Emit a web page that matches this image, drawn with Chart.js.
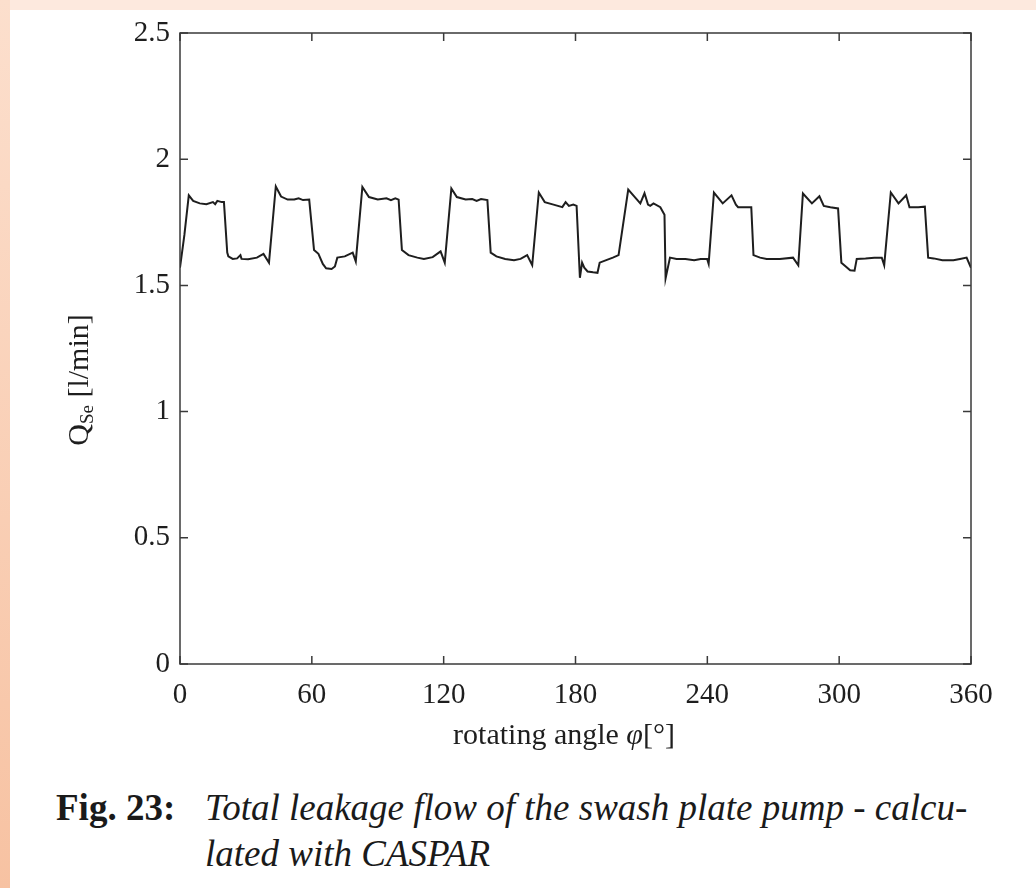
<!DOCTYPE html>
<html>
<head>
<meta charset="utf-8">
<title>Total leakage flow</title>
<script src="https://cdn.jsdelivr.net/npm/chart.js@4.4.0/dist/chart.umd.min.js"></script>
<style>
  html, body { margin: 0; padding: 0; background: #fff; }
  #page { position: relative; width: 1036px; height: 888px; overflow: hidden; background: #fff; }
  #topBand { position: absolute; left: 0; top: 0; width: 1036px; height: 10px; background: #fde9de; }
  #leftBand { position: absolute; left: 0; top: 0; width: 10px; height: 888px; background: linear-gradient(to bottom, #fcdfcd, #f7c2a2); }
  #chartBox { position: absolute; left: 0; top: 0; width: 1036px; height: 780px; }
  .caption { position: absolute; font-family: "Liberation Serif", "Times New Roman", serif; font-size: 37px; color: #1a1a1a; white-space: nowrap; line-height: 1; }
  .caption b { font-weight: bold; }
  .caption i { font-style: italic; }
</style>
</head>
<body>
<div id="page">
  <div id="topBand"></div>
  <div id="leftBand"></div>
  <div id="chartBox"><canvas id="leakagePlot" width="1036" height="780"></canvas></div>
  <div class="caption" style="left:56px; top:789px;"><b>Fig. 23:</b></div>
  <div class="caption" style="left:205px; top:789px;"><i>Total leakage flow of the swash plate pump - calcu-</i></div>
  <div class="caption" style="left:205px; top:835px;"><i>lated with CASPAR</i></div>
</div>
<script>
// rotating angle in degrees
const angles = [
  0, 2, 4, 6, 9, 12, 15, 16, 17, 19, 20, 21.5, 22, 24, 26, 27.5, 28, 31, 35, 38, 40.5,
  43.6, 46, 49, 52, 54, 56, 58.8, 61, 63, 65, 66.5, 69, 70.5, 71.6, 75, 78.6, 80,
  83, 86, 90, 94, 96, 98, 99.5, 101, 104, 108, 111, 115, 118.6, 120.5,
  123.5, 126, 130, 133, 135, 137, 139.9, 141.4, 144, 148, 152, 155, 158, 160.3,
  163.3, 166, 170, 174, 175.5, 177, 179, 180.5, 182, 183, 184, 185.5, 188, 190, 191, 194, 197, 199.6,
  204, 207, 209.5, 211.4, 213, 214, 215.5, 218.6, 220.5, 221, 223, 226, 230, 234, 237, 239.9, 240.6,
  243, 247, 251, 253, 254, 257, 260, 261, 264, 267, 273, 279, 281.4,
  283.5, 287.6, 291, 293, 296, 299.5, 301, 303, 305, 307, 308, 312, 316, 319.4, 320.5,
  323.5, 327, 330.5, 332, 336, 339, 340.5, 343, 347, 352, 355, 358, 360
];
// total leakage flow Q_Se in l/min
const leakage = [
  1.57, 1.70, 1.857, 1.835, 1.825, 1.822, 1.83, 1.822, 1.835, 1.83, 1.83, 1.63, 1.615, 1.605, 1.607, 1.62, 1.605, 1.604, 1.61, 1.625, 1.59,
  1.892, 1.852, 1.84, 1.84, 1.845, 1.838, 1.84, 1.64, 1.625, 1.585, 1.568, 1.565, 1.575, 1.61, 1.615, 1.63, 1.595,
  1.89, 1.85, 1.84, 1.845, 1.838, 1.845, 1.84, 1.64, 1.62, 1.61, 1.605, 1.612, 1.635, 1.59,
  1.884, 1.85, 1.84, 1.842, 1.835, 1.842, 1.838, 1.63, 1.615, 1.605, 1.60, 1.605, 1.62, 1.58,
  1.868, 1.83, 1.82, 1.81, 1.83, 1.815, 1.82, 1.815, 1.53, 1.59, 1.57, 1.555, 1.552, 1.55, 1.59, 1.60, 1.61, 1.62,
  1.88, 1.85, 1.825, 1.865, 1.82, 1.815, 1.825, 1.81, 1.78, 1.528, 1.61, 1.605, 1.605, 1.60, 1.605, 1.605, 1.585,
  1.868, 1.825, 1.857, 1.82, 1.81, 1.81, 1.81, 1.62, 1.61, 1.605, 1.605, 1.61, 1.58,
  1.864, 1.825, 1.853, 1.815, 1.81, 1.805, 1.59, 1.575, 1.56, 1.558, 1.605, 1.607, 1.61, 1.61, 1.58,
  1.868, 1.825, 1.857, 1.81, 1.81, 1.812, 1.61, 1.607, 1.60, 1.60, 1.605, 1.61, 1.57
];
const xTicks = [0, 60, 120, 180, 240, 300, 360];
const yTicks = [0, 0.5, 1, 1.5, 2, 2.5];

const serif = '"Liberation Serif", "Times New Roman", serif';
const inkColor = '#1e1e1e';

// box, inward ticks and axis titles, MATLAB style
const framePlugin = {
  id: 'frame',
  afterDraw(chart) {
    const { ctx, chartArea: a, scales: { x, y } } = chart;
    const len = 8;
    ctx.save();
    ctx.strokeStyle = '#3a3a3a';
    ctx.lineWidth = 1.5;
    ctx.strokeRect(a.left, a.top, a.right - a.left, a.bottom - a.top);
    ctx.beginPath();
    xTicks.forEach(v => {
      const px = x.getPixelForValue(v);
      ctx.moveTo(px, a.bottom); ctx.lineTo(px, a.bottom - len);
      ctx.moveTo(px, a.top); ctx.lineTo(px, a.top + len);
    });
    yTicks.forEach(v => {
      const py = y.getPixelForValue(v);
      ctx.moveTo(a.left, py); ctx.lineTo(a.left + len, py);
      ctx.moveTo(a.right, py); ctx.lineTo(a.right - len, py);
    });
    ctx.stroke();

    ctx.fillStyle = inkColor;
    ctx.textBaseline = 'alphabetic';
    ctx.textAlign = 'left';

    // x title: rotating angle φ[°]
    const xParts = [
      { t: 'rotating angle ', f: '30px ' + serif },
      { t: 'φ', f: 'italic 30px ' + serif },
      { t: '[°]', f: '30px ' + serif }
    ];
    let total = 0;
    xParts.forEach(p => { ctx.font = p.f; p.w = ctx.measureText(p.t).width; total += p.w; });
    let cx = 564 - total / 2;
    xParts.forEach(p => { ctx.font = p.f; ctx.fillText(p.t, cx, 744); cx += p.w; });

    // y title: Q_Se [l/min]
    const yParts = [
      { t: 'Q', f: '30px ' + serif, dy: 0 },
      { t: 'Se', f: '19px ' + serif, dy: 5 },
      { t: ' [l/min]', f: '30px ' + serif, dy: 0 }
    ];
    total = 0;
    yParts.forEach(p => { ctx.font = p.f; p.w = ctx.measureText(p.t).width; total += p.w; });
    ctx.translate(88, 380);
    ctx.rotate(-Math.PI / 2);
    cx = -total / 2;
    yParts.forEach(p => { ctx.font = p.f; ctx.fillText(p.t, cx, p.dy); cx += p.w; });
    ctx.restore();
  }
};

const chart = new Chart(document.getElementById('leakagePlot').getContext('2d'), {
  type: 'line',
  data: {
    datasets: [{
      label: 'Q_Se',
      data: angles.map((a, i) => ({ x: a, y: leakage[i] })),
      borderColor: inkColor,
      borderWidth: 2,
      pointRadius: 0,
      tension: 0,
      fill: false
    }]
  },
  options: {
    animation: false,
    responsive: false,
    layout: { padding: { top: 33, right: 65, bottom: 0, left: 0 } },
    plugins: { legend: { display: false }, tooltip: { enabled: false } },
    scales: {
      x: {
        type: 'linear',
        min: 0,
        max: 360,
        afterBuildTicks: s => { s.ticks = xTicks.map(v => ({ value: v })); },
        afterFit: s => { s.height = 116; },
        grid: { display: false, drawTicks: false },
        border: { display: false },
        ticks: { font: { family: serif, size: 29 }, color: inkColor, padding: 14, maxRotation: 0 }
      },
      y: {
        min: 0,
        max: 2.5,
        afterBuildTicks: s => { s.ticks = yTicks.map(v => ({ value: v })); },
        afterFit: s => { s.width = 180; },
        grid: { display: false, drawTicks: false },
        border: { display: false },
        ticks: { font: { family: serif, size: 29 }, color: inkColor, padding: 10, callback: v => String(v) }
      }
    }
  },
  plugins: [framePlugin]
});
</script>
</body>
</html>
